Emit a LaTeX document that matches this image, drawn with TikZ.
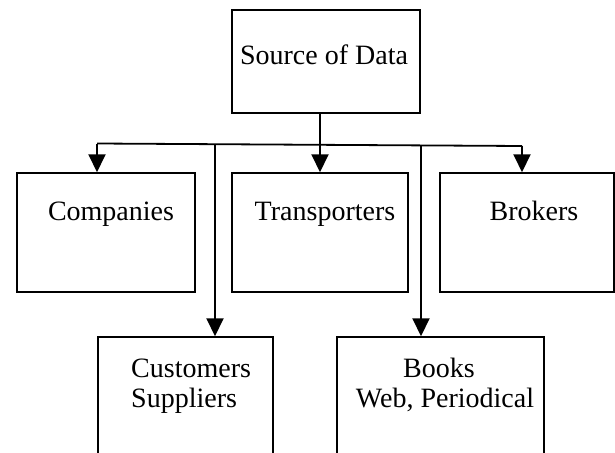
\documentclass[tikz,border=0pt]{standalone}
\usepackage{fontspec}
\setmainfont{Liberation Serif}
\usetikzlibrary{arrows.meta}
\begin{document}
\begin{tikzpicture}[x=1pt,y=-1pt,
  box/.style={draw=black,line width=1.5pt,inner sep=0pt,minimum width=#1},
  lbl/.style={inner sep=0pt,anchor=base,font=\fontsize{28}{30}\selectfont},
  lbll/.style={inner sep=0pt,anchor=base west,font=\fontsize{28}{30}\selectfont},
  arr/.style={line width=2pt,-{Triangle[length=18pt,width=17pt]}},
  link/.style={line width=1.8pt}]
\clip (0,0) rectangle (615,452);
\fill[white] (0,0) rectangle (615,452);
% boxes
\node[box=188pt,minimum height=103pt] (src) at (326,61.5) {};
\node[box=178pt,minimum height=119pt] (comp) at (106,232.5) {};
\node[box=176pt,minimum height=119pt] (trans) at (320,232.5) {};
\node[box=174pt,minimum height=119pt] (brok) at (527,232.5) {};
\node[box=175pt,minimum height=143pt] (cust) at (185.5,408.5) {};
\node[box=207pt,minimum height=143pt] (books) at (440.5,408.5) {};
% texts
\node[lbl] (tsrc) at (324,64) {Source of Data};
\node[lbl] (tcomp) at (111,220) {Companies};
\node[lbl] (ttrans) at (325,220) {Transporters};
\node[lbl] (tbrok) at (534,220) {Brokers};
\node[lbll] (tcust1) at (131,377) {Customers};
\node[lbll] (tcust2) at (131,407) {Suppliers};
\node[lbl] (tbook1) at (439,377) {Books};
\node[lbl] (tbook2) at (445,407) {Web, Periodical};
% connector coordinates
\coordinate (hL) at (97,143.5);
\coordinate (hR) at (522,146);
\coordinate (vc) at (215,144.5);
\coordinate (vb) at (421,145.5);
% connectors
\draw[link] (hL) -- (hR);
\draw[arr] (src.south -| trans.north) -- (trans.north);
\draw[arr] (hL) -- (hL |- comp.north);
\draw[arr] (hR) -- (hR |- brok.north);
\draw[arr] (vc) -- (vc |- cust.north);
\draw[arr] (vb) -- (vb |- books.north);
\end{tikzpicture}
\end{document}
